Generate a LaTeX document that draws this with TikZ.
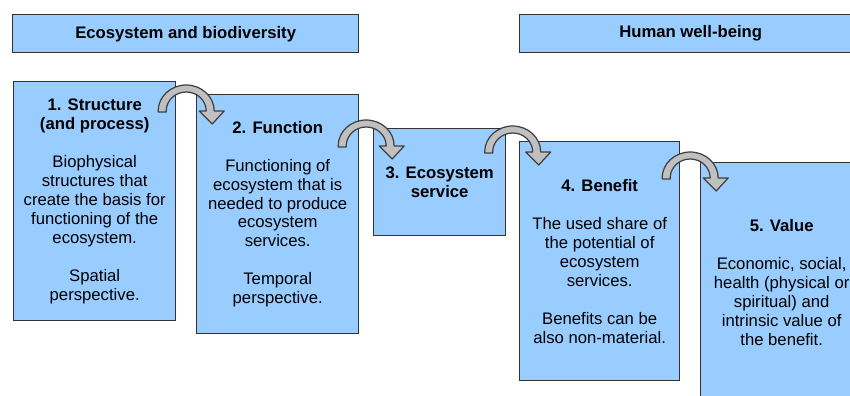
\documentclass[tikz,border=0pt]{standalone}
\usepackage{fontspec}
\setmainfont{Liberation Sans}
\usetikzlibrary{calc}
\definecolor{boxblue}{HTML}{99CCFF}
\definecolor{boxline}{HTML}{333333}
\definecolor{arrowgray}{HTML}{C0C0C0}
\definecolor{arrowline}{HTML}{404040}

\begin{document}
\begin{tikzpicture}[x=0.02cm, y=0.02cm, font=\fontsize{9.5}{10.8}\selectfont,
    box/.style={draw=boxline, line width=0.8pt, fill=boxblue, rectangle, anchor=north west, align=center, inner sep=0pt},
    header/.style={box, font=\fontsize{9.5}{10.8}\selectfont\bfseries, minimum height=0.76cm},
    step box/.style={box, minimum width=3.24cm, minimum height=4.78cm},
    bendarrow/.pic={
        \path[draw=arrowline, fill=arrowgray, line width=0.7pt, line join=round]
        (-28,-1) -- (-28,0) arc[start angle=180, end angle=0, x radius=28, y radius=26]
        -- (38,0) -- (26,-13) -- (13,0) -- (20,0)
        arc[start angle=0, end angle=180, x radius=20, y radius=19] -- (-20,-1) -- cycle;
    }]
    \useasboundingbox (0,0) rectangle (850,396);

    % Header boxes
    \node[header, minimum width=6.92cm] (eco) at (12,382) {Ecosystem and biodiversity};
    \node[header, minimum width=6.84cm] (human) at (519,382) {Human well-being};

    % Cascade boxes
    \node[step box] (s1) at (13,315)
    {\textbf{1. Structure}\\ \textbf{(and process)}\\[10.8pt] Biophysical\\ structures that\\ create the basis for\\ functioning of the\\ ecosystem.\\[10.8pt] Spatial\\ perspective.};

    \node[step box] (s2) at (196,302)
    {\textbf{2. Function}\\[10.8pt] Functioning of\\ ecosystem that is\\ needed to produce\\ ecosystem\\ services.\\[10.8pt] Temporal\\ perspective.};

    \node[box, minimum width=2.64cm, minimum height=2.14cm] (s3) at (373,268)
    {\textbf{3. Ecosystem}\\ \textbf{service}};

    \node[step box, minimum width=3.2cm] (s4) at (519,255)
    {\textbf{4. Benefit}\\[10.8pt] The used share of\\ the potential of\\ ecosystem\\ services.\\[10.8pt] Benefits can be\\ also non-material.};

    \node[step box] (s5) at (700,234)
    {\textbf{5. Value}\\[10.8pt] Economic, social,\\ health (physical or\\ spiritual) and\\ intrinsic value of\\ the benefit.};

    % Bent arrows between the steps
    \pic at ($(s1.north east |- s2.north)!0.5!(s2.north west) + (0,-17)$) {bendarrow};
    \pic at ($(s2.north east |- s3.north)!0.5!(s3.north west) + (0,-18)$) {bendarrow};
    \pic at ($(s3.north east |- s4.north)!0.5!(s4.north west) + (0,-11)$) {bendarrow};
    \pic at ($(s4.north east |- s5.north)!0.5!(s5.north west) + (0,-16)$) {bendarrow};
\end{tikzpicture}
\end{document}
